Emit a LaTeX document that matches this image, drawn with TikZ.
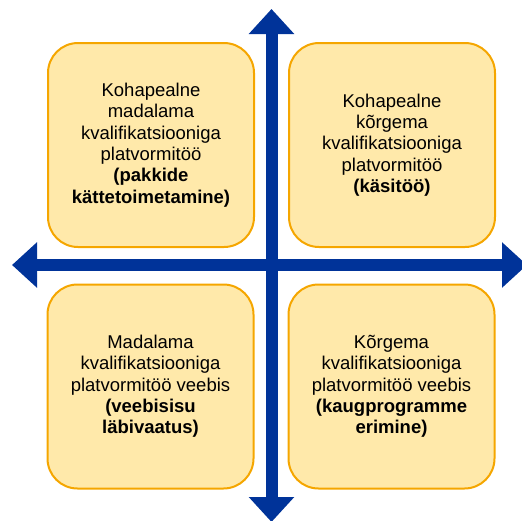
\documentclass[tikz,border=0pt]{standalone}
\usepackage{fontspec}
\setmainfont{Liberation Sans}
\usetikzlibrary{arrows.meta}
\definecolor{axisblue}{RGB}{0,51,153}
\definecolor{boxfill}{RGB}{255,233,170}
\definecolor{boxline}{RGB}{245,166,0}
\tikzset{
  quadbox/.style={draw=boxline, fill=boxfill, line width=2pt, rounded corners=30pt,
    minimum width=206pt, minimum height=204pt, align=center, inner sep=0pt,
    font=\fontsize{18.5pt}{21.3pt}\selectfont, text=black},
  axisarrow/.style={draw=axisblue, line width=12pt,
    {Triangle[width=44pt,length=25pt]}-{Triangle[width=44pt,length=25pt]}}
}
\begin{document}
\begin{tikzpicture}[x=1pt,y=-1pt]
\useasboundingbox (0,0) rectangle (522,520);
\coordinate (top) at (271.5,9);
\coordinate (bottom) at (271.5,522);
\coordinate (left) at (12,265);
\coordinate (right) at (527,265);
\draw[axisarrow] (top) -- (bottom);
\draw[axisarrow] (left) -- (right);
\node[quadbox] (tl) at (151,145) {Kohapealne\\madalama\\kvalifikatsiooniga\\platvormitöö\\\textbf{(pakkide}\\\textbf{kättetoimetamine)}};
\node[quadbox] (tr) at (392,145) {Kohapealne\\kõrgema\\kvalifikatsiooniga\\platvormitöö\\\textbf{(käsitöö)}};
\node[quadbox] (bl) at (150.5,386.5) {Madalama\\kvalifikatsiooniga\\platvormitöö veebis\\\textbf{(veebisisu}\\\textbf{läbivaatus)}};
\node[quadbox] (br) at (391.5,386.5) {Kõrgema\\kvalifikatsiooniga\\platvormitöö veebis\\\textbf{(kaugprogramme}\\\textbf{erimine)}};
\end{tikzpicture}
\end{document}
